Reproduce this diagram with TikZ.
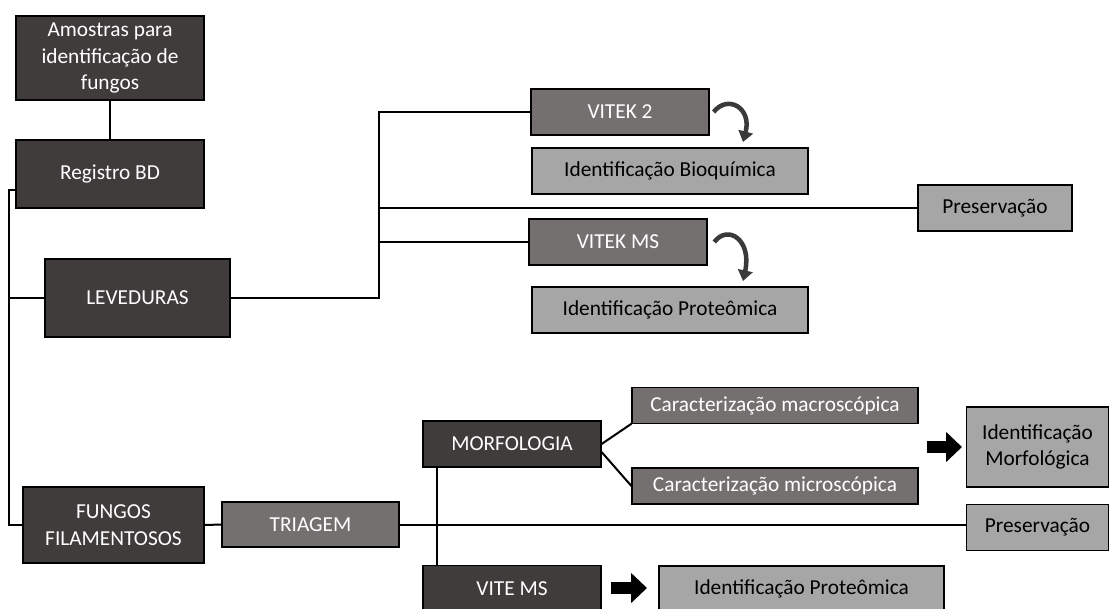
\documentclass[tikz,border=0pt]{standalone}
\usepackage{fontspec}
\setmainfont{Carlito}
\usetikzlibrary{arrows.meta,calc}
\definecolor{darkbox}{HTML}{403C3C}
\definecolor{midbox}{HTML}{747070}
\definecolor{lightbox}{HTML}{A6A6A6}
\definecolor{curvecol}{HTML}{3A3A3A}

\begin{document}
\begin{tikzpicture}[x=0.75pt,y=-0.75pt,
  box/.style={draw=black,line width=0.9pt,inner sep=2pt,align=center,font=\fontsize{16}{20}\selectfont},
  dbox/.style={box,fill=darkbox,text=white},
  mbox/.style={box,fill=midbox,text=white},
  lbox/.style={box,fill=lightbox,text=black},
  link/.style={line width=1.5pt},
  curvy/.style={line width=3.4pt,draw=curvecol,-{Triangle[length=8pt,width=11pt]}},
  fat/.style={line width=9pt,-{Triangle[length=12pt,width=22pt]}}]
\useasboundingbox (0,0) rectangle (1110,608);

\node[dbox,minimum width=141pt,minimum height=63pt] (amostras) at (110,58) {Amostras para\\identificação de\\fungos};
\node[dbox,minimum width=141pt,minimum height=51pt] (registro) at (110,174) {Registro BD};
\node[dbox,minimum width=138.75pt,minimum height=58.5pt] (leveduras) at (137.5,298) {LEVEDURAS};
\node[dbox,minimum width=135.75pt,minimum height=57pt] (fungos) at (113.5,525) {FUNGOS\\FILAMENTOSOS};
\node[mbox,minimum width=132.75pt,minimum height=33.75pt] (triagem) at (310.5,524.5) {TRIAGEM};

\node[mbox,minimum width=133.5pt,minimum height=34.5pt] (vitek2) at (620,112) {VITEK 2};
\node[lbox,minimum width=207pt,minimum height=34.5pt] (bioq) at (670,171) {Identificação Bioquímica};
\node[lbox,minimum width=115.5pt,minimum height=34.5pt] (preserv1) at (995,208) {Preservação};
\node[mbox,minimum width=133.5pt,minimum height=34.5pt] (vitekms) at (618,242) {VITEK MS};
\node[lbox,minimum width=207pt,minimum height=34.5pt] (proteo1) at (670,310) {Identificação Proteômica};

\node[dbox,minimum width=133.5pt,minimum height=34.5pt] (morfo) at (512,444) {MORFOLOGIA};
\node[mbox,minimum width=214.5pt,minimum height=26.5pt] (macro) at (775,405.5) {Caracterização macroscópica};
\node[mbox,minimum width=214.5pt,minimum height=27pt] (micro) at (775,486) {Caracterização microscópica};
\node[lbox,minimum width=106pt,minimum height=60pt] (idmorf) at (1037.5,447) {Identificação\\Morfológica};
\node[lbox,minimum width=106pt,minimum height=35pt] (preserv2) at (1037.5,527.5) {Preservação};
\node[dbox,minimum width=133.5pt,minimum height=35pt] (vitems) at (512,588.5) {VITE MS};
\node[lbox,minimum width=213.75pt,minimum height=34.5pt] (proteo2) at (801.5,589) {Identificação Proteômica};

\coordinate (spine) at (9,190);
\coordinate (lv) at (379,298);

\draw[link] (amostras.south) -- (registro.north);
\draw[link] ([yshift=-12pt]registro.west) -- (spine) |- (fungos.west);
\draw[link] (spine |- leveduras.west) -- (leveduras.west);
\draw[link] (leveduras.east) -- (lv) |- (vitek2.west);
\draw[link] (lv |- preserv1.west) -- (preserv1.west);
\draw[link] (lv |- vitekms.west) -- (vitekms.west);

\draw[link] (fungos.east) -- (triagem.west);
\draw[link] (triagem.east) -- (triagem.east -| preserv2.west);
\draw[link] ([xshift=11.25pt]morfo.south west) -- ([xshift=11.25pt]vitems.north west);
\draw[link] (morfo.east) -- (macro.south west);
\draw[link] ([yshift=-6pt]morfo.east) -- (micro.west);

\draw[curvy] ([xshift=3pt]vitek2.east) .. controls (728,94) and (752,108) .. (743,142);
\draw[curvy] ([xshift=5pt]vitekms.east) .. controls (728,224) and (752,240) .. (743,281);

\coordinate (a1s) at (927,447);
\coordinate (a1e) at (962,447);
\coordinate (a2s) at (611,588);
\coordinate (a2e) at (647,588);
\draw[fat] (a1s) -- (a1e);
\draw[fat] (a2s) -- (a2e);

\end{tikzpicture}
\end{document}
